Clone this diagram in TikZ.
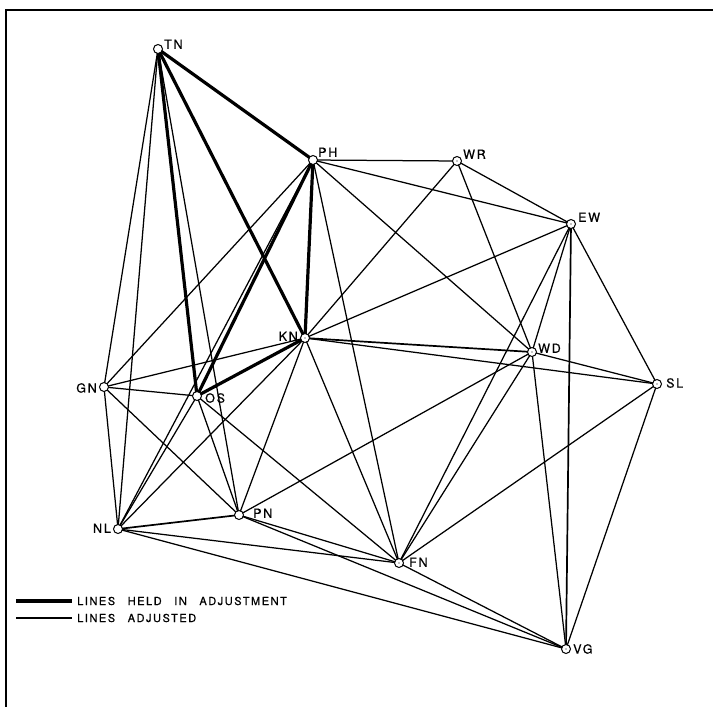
\documentclass[tikz,border=0pt]{standalone}
\usepackage{fontspec}
\newfontfamily\lblfont[LetterSpace=14, FakeBold=0.6]{TeX Gyre Heros}
\begin{document}
\begin{tikzpicture}[x=1pt,y=-1pt,
  adj/.style={line width=1.25pt},
  held/.style={line width=3.2pt, line cap=round},
  semi/.style={line width=1.7pt},
  stn/.style={circle, draw, fill=white, inner sep=0pt, minimum size=9pt, line width=1pt},
  lbl/.style={inner sep=0pt, font=\lblfont\fontsize{12.5}{14}\selectfont},
  leg/.style={inner sep=0pt, anchor=west, font=\lblfont\fontsize{11}{13}\selectfont}]
\useasboundingbox (0,0) rectangle (713,707);
% frame (top and left edges)
\coordinate (F1) at (6,707);
\coordinate (F2) at (6,10);
\coordinate (F3) at (713,10);
\draw[line width=2pt] (F1) -- (F2) -- (F3);
% stations
\coordinate (TN) at (158,49);
\coordinate (PH) at (313,160);
\coordinate (WR) at (457,161);
\coordinate (EW) at (571,224);
\coordinate (KN) at (305,338);
\coordinate (WD) at (532,352);
\coordinate (SL) at (657,384);
\coordinate (GN) at (104,387);
\coordinate (OS) at (197,396);
\coordinate (PN) at (239,515);
\coordinate (NL) at (118,529);
\coordinate (FN) at (399,563);
\coordinate (VG) at (566,649);
% lines adjusted
\draw[adj] (TN) -- (GN);
\draw[adj] (TN) -- (NL);
\draw[adj] (TN) -- (PN);
\draw[adj] (PH) -- (WR);
\draw[adj] (PH) -- (EW);
\draw[adj] (PH) -- (WD);
\draw[adj] (PH) -- (GN);
\draw[adj] (PH) -- (NL);
\draw[adj] (PH) -- (FN);
\draw[adj] (WR) -- (EW);
\draw[adj] (WR) -- (KN);
\draw[adj] (WR) -- (WD);
\draw[adj] (EW) -- (KN);
\draw[adj] (EW) -- (WD);
\draw[adj] (EW) -- (FN);
\draw[semi] (EW) -- (VG);
\draw[adj] (EW) -- (SL);
\draw[semi] (KN) -- (WD);
\draw[adj] (KN) -- (SL);
\draw[adj] (KN) -- (GN);
\draw[adj] (KN) -- (NL);
\draw[adj] (KN) -- (PN);
\draw[adj] (KN) -- (FN);
\draw[adj] (WD) -- (SL);
\draw[adj] (WD) -- (PN);
\draw[adj] (WD) -- (FN);
\draw[adj] (WD) -- (VG);
\draw[adj] (SL) -- (FN);
\draw[adj] (SL) -- (VG);
\draw[adj] (GN) -- (OS);
\draw[adj] (GN) -- (NL);
\draw[adj] (GN) -- (PN);
\draw[adj] (OS) -- (NL);
\draw[adj] (OS) -- (PN);
\draw[adj] (OS) -- (FN);
\draw[semi] (NL) -- (PN);
\draw[adj] (NL) -- (FN);
\draw[adj] (NL) -- (VG);
\draw[adj] (PN) -- (FN);
\draw[adj] (PN) -- (VG);
\draw[adj] (FN) -- (VG);
% lines held in adjustment
\draw[held] (TN) -- (PH);
\draw[held] (TN) -- (KN);
\draw[held] (TN) -- (OS);
\draw[held] (PH) -- (KN);
\draw[held] (PH) -- (OS);
\draw[held] (KN) -- (OS);
% station circles
\foreach \s in {TN,PH,WR,EW,KN,WD,SL,GN,OS,PN,NL,FN,VG}
  \node[stn] (c\s) at (\s) {};
\foreach \s in {WR,EW,KN,WD,SL,FN,VG}
  \fill (\s) circle (0.7pt);
% labels
\node[lbl, anchor=south west] (lTN) at (164,49) {TN};
\node[lbl, anchor=south west] (lPH) at (318,157) {PH};
\node[lbl, anchor=south west] (lWR) at (463,159) {WR};
\node[lbl, anchor=south west] (lEW) at (578,222) {EW};
\node[lbl, anchor=south east] (lKN) at (298,341) {KN};
\node[lbl, anchor=south west] (lWD) at (538,353) {WD};
\node[lbl, anchor=south west] (lSL) at (666,388) {SL};
\node[lbl, anchor=south east] (lGN) at (97,393) {GN};
\node[lbl, anchor=south west] (lOS) at (205,403) {OS};
\node[lbl, anchor=south west] (lPN) at (253,518) {PN};
\node[lbl, anchor=south east] (lNL) at (111,533) {NL};
\node[lbl, anchor=south west] (lFN) at (409,567) {FN};
\node[lbl, anchor=south west] (lVG) at (573,654) {VG};
% legend
\coordinate (L1a) at (16,601);
\coordinate (L1b) at (72,601);
\coordinate (L2a) at (16,618);
\coordinate (L2b) at (72,618);
\draw[held, line cap=butt] (L1a) -- (L1b);
\draw[adj] (L2a) -- (L2b);
\node[leg] (t1) at (77,601) {LINES\hspace{8pt} HELD\hspace{8pt} IN\hspace{8pt} ADJUSTMENT};
\node[leg] (t2) at (77,618) {LINES\hspace{8pt} ADJUSTED};
\end{tikzpicture}
\end{document}
